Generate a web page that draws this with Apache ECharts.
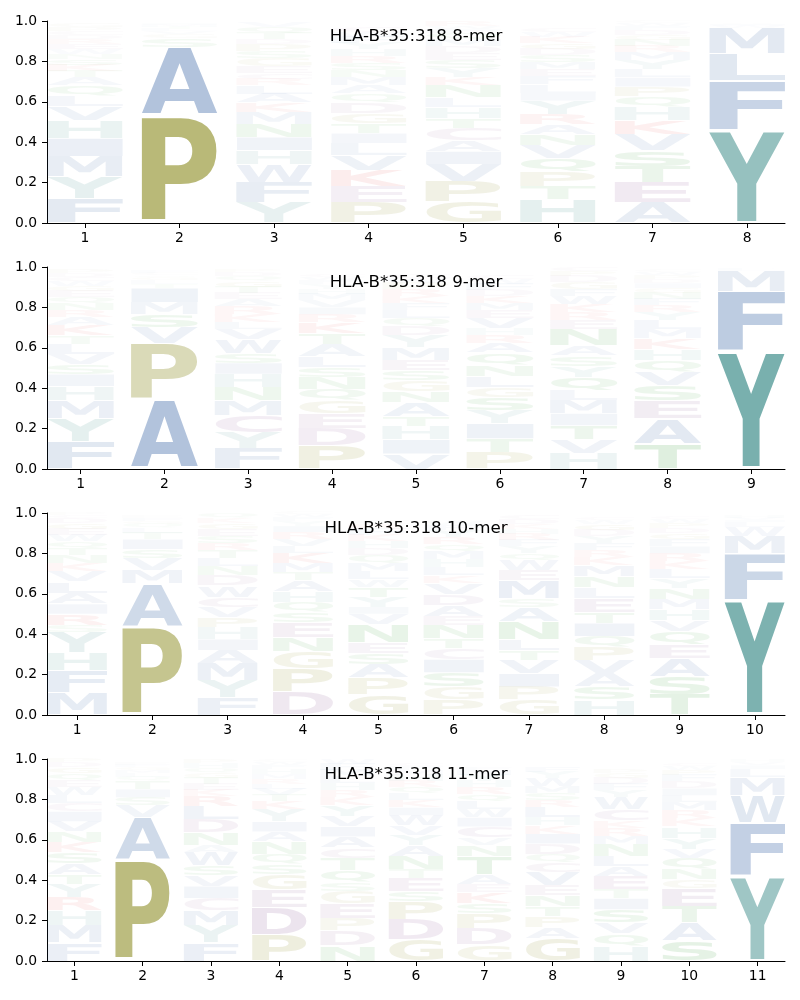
<!DOCTYPE html>
<html><head><meta charset="utf-8">
<script src="https://cdn.jsdelivr.net/npm/echarts@6/dist/echarts.min.js"></script>
<style>html,body{margin:0;padding:0;background:#fff}#c{width:800px;height:1000px}</style>
</head><body><div id="c"></div>
<script>
// ---------- data ----------
const titles = ['HLA-B*35:318 8-mer', 'HLA-B*35:318 9-mer', 'HLA-B*35:318 10-mer', 'HLA-B*35:318 11-mer'];
const yTicks = [0, 0.2, 0.4, 0.6, 0.8, 1.0];

// each position: letter, frequency, ... stacked bottom -> top
const logo8 = [
  ['F',.12,'Y',.11,'M',.10,'I',.09,'H',.09,'V',.07,'L',.05,'Q',.05,'A',.04,'T',.03,'K',.03,'S',.03,'N',.025,'W',.025,'E',.025,'R',.025,'D',.02,'C',.02,'P',.02,'G',.02],
  ['P',.53,'A',.34,'S',.045,'G',.02,'V',.015,'L',.012,'T',.01,'M',.01,'I',.008],
  ['Y',.10,'F',.10,'W',.09,'H',.07,'I',.065,'N',.065,'M',.06,'K',.045,'A',.045,'L',.04,'R',.03,'C',.03,'E',.035,'G',.04,'S',.035,'P',.035,'D',.025,'T',.03,'Q',.03,'V',.025],
  ['P',.10,'E',.08,'K',.08,'V',.075,'L',.06,'I',.05,'T',.05,'G',.05,'D',.05,'Q',.045,'A',.04,'M',.04,'N',.035,'S',.035,'R',.035,'H',.035,'Y',.03,'F',.03,'W',.025,'C',.025],
  ['G',.105,'P',.10,'V',.085,'I',.065,'A',.055,'C',.06,'T',.05,'H',.055,'L',.045,'N',.06,'K',.04,'Y',.045,'S',.04,'E',.035,'D',.035,'M',.035,'Q',.03,'F',.02,'W',.015,'R',.025],
  ['H',.115,'T',.065,'P',.075,'Q',.065,'V',.065,'N',.055,'A',.05,'R',.05,'Y',.065,'I',.04,'L',.04,'F',.04,'E',.035,'M',.035,'S',.035,'D',.03,'G',.03,'K',.03,'W',.025,'C',.02],
  ['A',.10,'E',.10,'T',.08,'S',.08,'V',.08,'K',.07,'H',.065,'Q',.05,'P',.05,'I',.045,'L',.04,'Y',.045,'M',.04,'R',.03,'N',.03,'G',.025,'D',.025,'F',.02,'W',.015,'C',.01],
  ['Y',.46,'F',.245,'L',.135,'M',.125,'W',.012,'I',.01,'V',.008]
];
const logo9 = [
  ['F',.135,'Y',.115,'M',.09,'H',.07,'I',.06,'S',.05,'V',.05,'L',.05,'T',.04,'K',.05,'A',.04,'R',.035,'N',.035,'Q',.03,'E',.03,'G',.025,'W',.025,'C',.02,'D',.02,'P',.02],
  ['A',.34,'P',.28,'V',.08,'S',.065,'M',.06,'I',.07,'T',.02,'L',.02,'G',.015,'Q',.01,'C',.01,'F',.01],
  ['F',.10,'Y',.08,'C',.085,'M',.075,'N',.065,'H',.065,'I',.055,'S',.05,'W',.065,'V',.05,'L',.035,'K',.04,'R',.04,'A',.035,'E',.03,'T',.03,'G',.03,'Q',.025,'D',.02,'P',.015],
  ['P',.115,'D',.085,'E',.075,'G',.065,'Q',.055,'N',.06,'S',.05,'L',.05,'A',.06,'T',.055,'K',.055,'R',.04,'I',.035,'V',.035,'M',.03,'H',.025,'Y',.025,'F',.02,'W',.015,'C',.015],
  ['V',.075,'I',.07,'H',.065,'T',.05,'A',.07,'N',.055,'G',.055,'S',.05,'E',.05,'M',.06,'Y',.06,'D',.045,'Q',.04,'L',.04,'F',.035,'K',.035,'R',.035,'P',.03,'W',.025,'C',.02],
  ['P',.085,'T',.065,'I',.075,'Y',.065,'S',.065,'G',.05,'L',.055,'N',.055,'Q',.06,'A',.05,'R',.04,'H',.03,'V',.05,'E',.04,'M',.035,'K',.035,'D',.03,'F',.03,'W',.025,'C',.02],
  ['H',.08,'V',.065,'T',.07,'I',.06,'M',.065,'L',.05,'Q',.065,'Y',.055,'S',.05,'A',.05,'N',.08,'E',.045,'R',.04,'K',.04,'W',.04,'F',.035,'G',.035,'D',.03,'P',.025,'C',.02],
  ['T',.125,'A',.125,'E',.09,'S',.075,'V',.065,'Q',.06,'H',.055,'K',.05,'M',.045,'L',.045,'Y',.04,'R',.035,'F',.03,'N',.03,'G',.025,'I',.025,'D',.02,'P',.02,'W',.015,'C',.01],
  ['Y',.585,'F',.295,'M',.10,'L',.01,'W',.005]
];
const logo10 = [
  ['M',.11,'F',.11,'H',.09,'Y',.10,'S',.035,'R',.055,'I',.05,'A',.055,'L',.055,'V',.05,'K',.04,'N',.04,'T',.035,'Q',.035,'W',.03,'E',.03,'G',.03,'D',.025,'C',.015,'P',.01],
  ['P',.44,'A',.21,'M',.065,'V',.06,'S',.045,'I',.05,'T',.03,'L',.025,'Q',.02,'G',.015,'F',.015,'E',.01],
  ['F',.085,'Y',.085,'M',.085,'A',.065,'I',.055,'H',.06,'P',.05,'V',.05,'C',.05,'W',.055,'D',.05,'N',.045,'L',.04,'T',.04,'R',.035,'S',.035,'E',.035,'G',.03,'K',.025,'Q',.025],
  ['D',.115,'P',.115,'G',.085,'N',.07,'E',.075,'S',.05,'Q',.05,'H',.05,'A',.055,'T',.04,'M',.045,'K',.05,'L',.035,'V',.035,'R',.035,'I',.03,'Y',.025,'F',.02,'W',.015,'C',.01],
  ['G',.10,'P',.085,'A',.065,'S',.055,'E',.055,'N',.09,'V',.05,'I',.035,'Y',.05,'T',.05,'W',.035,'L',.04,'M',.04,'Q',.04,'D',.035,'H',.035,'K',.03,'F',.03,'R',.025,'C',.02],
  ['P',.075,'G',.065,'S',.07,'I',.065,'C',.055,'T',.05,'N',.065,'E',.045,'A',.055,'D',.055,'V',.055,'K',.035,'L',.04,'H',.04,'M',.04,'Q',.035,'R',.035,'Y',.035,'F',.025,'W',.02],
  ['G',.075,'P',.065,'I',.065,'V',.065,'T',.05,'L',.055,'N',.09,'A',.07,'S',.04,'M',.09,'E',.05,'W',.05,'Q',.035,'Y',.035,'F',.03,'R',.03,'H',.025,'K',.025,'D',.025,'C',.02],
  ['H',.075,'S',.065,'A',.065,'V',.065,'P',.065,'Q',.055,'I',.065,'T',.055,'E',.07,'L',.05,'N',.055,'M',.055,'K',.04,'R',.035,'F',.035,'Y',.035,'D',.03,'G',.03,'W',.02,'C',.015],
  ['T',.10,'S',.09,'A',.09,'E',.07,'Q',.065,'V',.055,'H',.055,'M',.05,'N',.055,'Y',.045,'L',.045,'K',.04,'R',.04,'I',.035,'F',.035,'G',.03,'D',.025,'P',.025,'W',.02,'C',.015],
  ['Y',.57,'F',.23,'M',.085,'W',.045,'L',.025,'I',.01,'V',.01,'H',.01]
];
const logo11 = [
  ['F',.09,'M',.085,'H',.075,'R',.065,'Y',.065,'T',.05,'A',.055,'S',.055,'K',.05,'N',.05,'V',.05,'I',.05,'C',.04,'L',.04,'W',.04,'E',.035,'Q',.035,'G',.03,'D',.025,'P',.02],
  ['P',.50,'A',.21,'V',.06,'S',.04,'I',.04,'T',.04,'Q',.02,'L',.02,'M',.015,'G',.015,'F',.01,'E',.01],
  ['F',.09,'Y',.085,'M',.075,'C',.06,'I',.06,'V',.055,'S',.05,'W',.065,'A',.035,'N',.06,'D',.065,'L',.065,'R',.05,'K',.03,'E',.03,'T',.03,'G',.025,'Q',.025,'H',.025,'P',.02],
  ['P',.13,'D',.135,'E',.09,'G',.075,'S',.05,'Q',.05,'N',.06,'A',.05,'I',.05,'Y',.06,'K',.04,'T',.03,'V',.03,'L',.025,'R',.025,'M',.025,'H',.025,'F',.02,'W',.015,'C',.01],
  ['N',.075,'D',.075,'P',.06,'E',.075,'G',.06,'S',.045,'Q',.06,'T',.06,'C',.05,'A',.055,'I',.05,'V',.05,'Y',.055,'K',.04,'R',.035,'H',.035,'L',.035,'M',.03,'F',.03,'W',.025],
  ['G',.105,'D',.10,'P',.09,'S',.05,'E',.065,'T',.045,'N',.065,'A',.055,'Y',.05,'V',.045,'W',.05,'I',.04,'K',.035,'L',.035,'Q',.03,'R',.03,'H',.03,'M',.025,'F',.02,'C',.015],
  ['G',.08,'D',.08,'P',.075,'S',.05,'K',.055,'E',.04,'A',.05,'T',.09,'N',.055,'V',.035,'C',.055,'I',.045,'W',.04,'L',.04,'Q',.035,'R',.035,'H',.03,'Y',.03,'M',.025,'F',.015],
  ['G',.11,'A',.055,'P',.055,'T',.05,'N',.055,'E',.05,'V',.065,'C',.05,'Q',.04,'D',.05,'I',.05,'K',.04,'H',.04,'L',.05,'R',.035,'S',.035,'M',.035,'W',.04,'Y',.03,'F',.025],
  ['H',.075,'Q',.06,'V',.055,'S',.065,'I',.055,'T',.045,'E',.065,'A',.05,'L',.05,'N',.06,'M',.04,'R',.04,'K',.035,'C',.055,'W',.06,'Y',.035,'F',.03,'D',.03,'G',.025,'P',.02],
  ['S',.10,'A',.09,'T',.08,'E',.09,'G',.045,'N',.05,'Q',.055,'V',.045,'Y',.055,'H',.055,'K',.04,'R',.04,'M',.04,'L',.035,'I',.035,'D',.035,'F',.03,'P',.025,'W',.02,'C',.015],
  ['Y',.42,'F',.265,'W',.135,'M',.09,'L',.04,'I',.02,'V',.015,'H',.01]
];
const logos = [logo8, logo9, logo10, logo11];

// ---------- style ----------
const GROUP_RGB = {blue:[30,80,152], teal:[26,120,116], olive:[122,122,0], purple:[115,50,125], red:[220,25,25], green:[0,128,0]};
const AA_GROUP = {A:'blue',V:'blue',L:'blue',I:'blue',M:'blue',F:'blue',W:'blue',Y:'teal',H:'teal',P:'olive',G:'olive',D:'purple',E:'purple',C:'purple',K:'red',R:'red',S:'green',T:'green',N:'green',Q:'green'};
const GLYPH_FONT = 'bold 100px "DejaVu Sans"';
const LABEL_FONT = 'DejaVu Sans';
const VPAD = 0.05, COLW = 0.8;
const GRID_LEFT = 47, GRID_W = 738, GRID_TOP = 21, GRID_H = 202, GRID_STEP = 246;

// glyph ink metrics (textBaseline middle, align left)
const mctx = document.createElement('canvas').getContext('2d');
mctx.font = GLYPH_FONT; mctx.textBaseline = 'middle'; mctx.textAlign = 'left';
const metrics = {};
Object.keys(AA_GROUP).forEach(ch => {
  const m = mctx.measureText(ch);
  metrics[ch] = {left: m.actualBoundingBoxLeft, w: m.actualBoundingBoxLeft + m.actualBoundingBoxRight,
                 asc: m.actualBoundingBoxAscent, h: m.actualBoundingBoxAscent + m.actualBoundingBoxDescent};
});

function stackItems(logo) {
  const items = [];
  logo.forEach((col, i) => {
    let y = 0;
    for (let k = 0; k < col.length; k += 2) {
      const ch = col[k], f = col[k + 1];
      items.push({pos: i + 1, y0: y, y1: y + f, ch, f});
      y += f;
    }
  });
  return items;
}

const chart = echarts.init(document.getElementById('c'), null, {renderer: 'canvas'});
const grids = [], xAxes = [], yAxes = [], series = [], graphics = [];
logos.forEach((logo, gi) => {
  const L = logo.length;
  const positions = logo.map((_, i) => i + 1);
  const items = stackItems(logo);
  grids.push({left: GRID_LEFT, width: GRID_W, top: GRID_TOP + GRID_STEP * gi, height: GRID_H});
  const axisText = {fontFamily: LABEL_FONT, fontSize: 13.9, color: '#000'};
  xAxes.push({gridIndex: gi, type: 'value', min: 0.6, max: L + 0.4,
    splitLine: {show: false},
    axisLine: {show: true, onZero: false, lineStyle: {color: '#000', width: 1}},
    axisTick: {show: true, length: 5, lineStyle: {color: '#000', width: 1}, customValues: positions},
    axisLabel: Object.assign({customValues: positions, margin: 8}, axisText)});
  yAxes.push({gridIndex: gi, type: 'value', min: 0, max: 1, interval: 0.2,
    splitLine: {show: false},
    axisLine: {show: true, onZero: false, lineStyle: {color: '#000', width: 1}},
    axisTick: {show: true, length: 5, lineStyle: {color: '#000', width: 1}},
    axisLabel: Object.assign({margin: 10, formatter: v => v.toFixed(1)}, axisText)});
  series.push({
    type: 'custom', xAxisIndex: gi, yAxisIndex: gi, silent: true, animation: false,
    data: items.map(it => [it.pos, it.y0, it.y1]),
    renderItem: function (params, api) {
      const it = items[params.dataIndex];
      const pos = api.value(0), y0 = api.value(1), y1 = api.value(2);
      const pad = (y1 - y0) * VPAD / 2;
      const tl = api.coord([pos - COLW / 2, y1 - pad]);
      const br = api.coord([pos + COLW / 2, y0 + pad]);
      const w = br[0] - tl[0], h = br[1] - tl[1];
      if (h <= 0.05) return null;
      const m = metrics[it.ch];
      const sx = w / m.w, sy = h / m.h;
      const rgb = GROUP_RGB[AA_GROUP[it.ch]];
      const a = Math.min(1, Math.max(0, it.f));
      return {
        type: 'text', x: tl[0] + m.left * sx, y: tl[1] + m.asc * sy, scaleX: sx, scaleY: sy,
        silent: true,
        style: {text: it.ch, x: 0, y: 0, font: GLYPH_FONT, fill: 'rgba(' + rgb.join(',') + ',' + a + ')',
                align: 'left', verticalAlign: 'middle', textAlign: 'left', textVerticalAlign: 'middle'}
      };
    }
  });
  graphics.push({type: 'text', x: GRID_LEFT + GRID_W / 2, y: 36.6 + GRID_STEP * gi, silent: true,
    style: {text: titles[gi], x: 0, y: 0, font: '16.7px "DejaVu Sans"', fill: '#000',
            align: 'center', verticalAlign: 'middle', textAlign: 'center', textVerticalAlign: 'middle'}});
});

chart.setOption({
  animation: false,
  backgroundColor: '#fff',
  grid: grids, xAxis: xAxes, yAxis: yAxes, series: series,
  graphic: graphics
});
</script></body></html>
